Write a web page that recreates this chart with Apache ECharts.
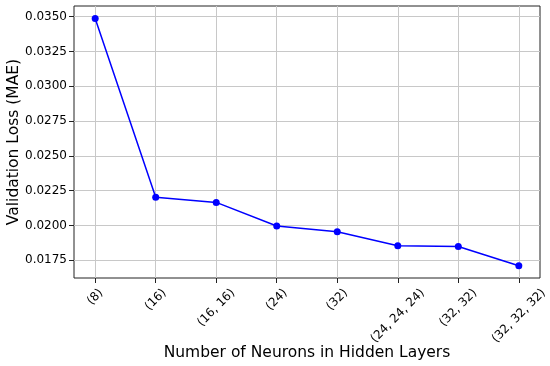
<!DOCTYPE html>
<html>
<head>
<meta charset="utf-8">
<script src="https://cdn.jsdelivr.net/npm/echarts@6/dist/echarts.min.js"></script>
<style>
  html, body { margin: 0; padding: 0; background: #fff; }
  #chart { width: 550px; height: 366px; }
</style>
</head>
<body>
<div id="chart"></div>
<script>
// data
const categories = ['(8)', '(16)', '(16, 16)', '(24)', '(32)', '(24, 24, 24)', '(32, 32)', '(32, 32, 32)']
const valLoss = [0.03488, 0.02203, 0.02166, 0.01997, 0.01956, 0.01855, 0.01849, 0.01711]
const yTicks = [0.0175, 0.0200, 0.0225, 0.0250, 0.0275, 0.0300, 0.0325, 0.0350]
const xTicks = categories.map((c, i) => i)

const FONT = 'DejaVu Sans'
const LABEL_SIZE = 12

// matplotlib centres rotated tick labels under the tick, so pad each label by its own width
const ctx = document.createElement('canvas').getContext('2d')
ctx.font = LABEL_SIZE + 'px "' + FONT + '"'
const rich = {}
categories.forEach((c, i) => {
  const w = ctx.measureText(c).width
  rich['s' + i] = {
    fontFamily: FONT,
    fontSize: LABEL_SIZE,
    color: '#000',
    padding: [w * 0.5, w * 0.5, 0, 0]
  }
})

const chart = echarts.init(document.getElementById('chart'), null, { renderer: 'canvas' })

const option = {
  animation: false,
  backgroundColor: '#fff',
  textStyle: { fontFamily: FONT },
  grid: {
    left: 74, right: 10, top: 6, bottom: 88,
    show: true, borderColor: '#222', borderWidth: 1,
    outerBoundsMode: 'none'
  },
  xAxis: {
    type: 'value',
    min: -0.35,
    max: 7.35,
    name: 'Number of Neurons in Hidden Layers',
    nameLocation: 'middle',
    nameGap: 67,
    nameMoveOverlap: false,
    nameTextStyle: { fontSize: 15.5, color: '#000', fontFamily: FONT },
    axisLine: { show: false, onZero: false },
    axisTick: { show: true, length: 5, customValues: xTicks, lineStyle: { color: '#222' } },
    axisLabel: {
      customValues: xTicks,
      rotate: 45,
      align: 'center',
      verticalAlign: 'middle',
      margin: 13,
      formatter: v => {
        const i = Math.round(v)
        return '{s' + i + '|' + categories[i] + '}'
      },
      rich: rich
    },
    splitLine: { show: true, lineStyle: { color: '#c8c8c8', width: 1 } }
  },
  yAxis: {
    type: 'value',
    min: 0.01623,
    max: 0.03577,
    name: 'Validation Loss (MAE)',
    nameLocation: 'middle',
    nameGap: 52,
    nameMoveOverlap: false,
    nameTextStyle: { fontSize: 15.5, color: '#000', fontFamily: FONT },
    axisLine: { show: false, onZero: false },
    axisTick: { show: true, length: 5, customValues: yTicks, lineStyle: { color: '#222' } },
    axisLabel: {
      customValues: yTicks,
      margin: 7,
      fontSize: LABEL_SIZE,
      color: '#000',
      fontFamily: FONT,
      formatter: v => v.toFixed(4)
    },
    splitLine: { show: true, lineStyle: { color: '#c8c8c8', width: 1 } }
  },
  series: [
    {
      type: 'line',
      data: valLoss.map((v, i) => [i, v]),
      symbol: 'circle',
      symbolSize: 7,
      itemStyle: { color: '#0000ff' },
      lineStyle: { color: '#0000ff', width: 1.5 }
    }
  ]
}

chart.setOption(option)
</script>
</body>
</html>
